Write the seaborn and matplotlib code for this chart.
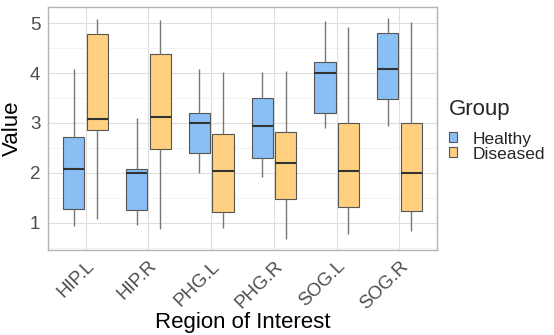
import numpy as np
import pandas as pd
import seaborn as sns
import matplotlib.pyplot as plt
from matplotlib.patches import Patch
from matplotlib.ticker import MultipleLocator

# values: whisker low, Q1, median, Q3, whisker high
regions = ["HIP.L", "HIP.R", "PHG.L", "PHG.R", "SOG.L", "SOG.R"]
groups = ["Healthy", "Diseased"]

healthy = [
    [0.93, 1.28, 2.07, 2.72, 4.09],
    [0.95, 1.25, 1.99, 2.07, 3.10],
    [1.99, 2.40, 2.99, 3.20, 4.08],
    [1.92, 2.29, 2.94, 3.50, 4.03],
    [2.90, 3.19, 4.00, 4.22, 5.05],
    [2.94, 3.48, 4.08, 4.80, 5.10],
]
diseased = [
    [1.07, 2.85, 3.08, 4.78, 5.09],
    [0.88, 2.47, 3.12, 4.39, 5.07],
    [0.89, 1.21, 2.03, 2.77, 4.02],
    [0.68, 1.47, 2.19, 2.82, 4.05],
    [0.77, 1.32, 2.04, 2.99, 4.92],
    [0.84, 1.24, 2.00, 3.00, 5.02],
]

colors = {"Healthy": "#89BFF3", "Diseased": "#FED07F"}

# long table: five points per box give exactly these quartiles
rows = []
for g, vals in zip(groups, [healthy, diseased]):
    for r, five in zip(regions, vals):
        for v in five:
            rows.append((r, g, v))
df = pd.DataFrame(rows, columns=["Region", "Group", "Value"])

sns.set_style("white")
plt.rcParams["font.family"] = ["Liberation Sans", "DejaVu Sans"]

fig, ax = plt.subplots(figsize=(5.54, 3.35), dpi=100)
fig.subplots_adjust(left=0.0866, right=0.789, top=0.979, bottom=0.254)

sns.boxplot(data=df, x="Region", y="Value", hue="Group", order=regions,
            hue_order=groups, palette=colors, saturation=1, whis=(0, 100),
            width=0.75, gap=0.1, showcaps=False, linecolor="#555555",
            linewidth=0.8,
            whiskerprops={"color": "#777777", "linewidth": 1.0},
            medianprops={"color": "#333333", "linewidth": 1.5},
            legend=False, ax=ax, zorder=3)

# ggplot style limits (5% padding on y, 0.6 on discrete x)
lo, hi = df.Value.min(), df.Value.max()
pad = (hi - lo) * 0.05
ax.set_ylim(lo - pad, hi + pad)
ax.set_xlim(-0.6, len(regions) - 0.4)

ax.yaxis.set_major_locator(MultipleLocator(1))
ax.yaxis.set_minor_locator(MultipleLocator(0.5))
ax.grid(True, which="major", color="#DEDEDE", linewidth=0.8, zorder=0)
ax.grid(True, which="minor", axis="y", color="#EFEFEF", linewidth=0.5, zorder=0)
ax.set_axisbelow(True)

for s in ax.spines.values():
    s.set_visible(True)
    s.set_color("#B3B3B3")
    s.set_linewidth(1.0)

ax.tick_params(axis="both", which="major", length=3.5, width=0.8,
               color="#B3B3B3", labelcolor="#4D4D4D", labelsize=13.5, pad=2)
ax.tick_params(axis="y", which="minor", length=0)
ax.set_yticks([1, 2, 3, 4, 5])
for lab in ax.get_xticklabels():
    lab.set_rotation(45)
    lab.set_ha("right")
    lab.set_va("top")
    lab.set_rotation_mode("anchor")

ax.set_xlabel("Region of Interest", fontsize=16, color="black", labelpad=0)
ax.set_ylabel("Value", fontsize=16, color="black", labelpad=5)

handles = [Patch(facecolor=colors[g], edgecolor="#555555", linewidth=0.8) for g in groups]
leg = fig.legend(handles, groups, title="Group", loc="upper left",
                 bbox_to_anchor=(0.81, 0.703), frameon=False, alignment="left",
                 fontsize=12.5, title_fontsize=16, handlelength=0.5,
                 handleheight=0.5, handletextpad=0.9, labelspacing=0.0,
                 borderpad=0, borderaxespad=0)
leg._legend_box.sep = 8

fig.savefig("out.png", dpi=100)
